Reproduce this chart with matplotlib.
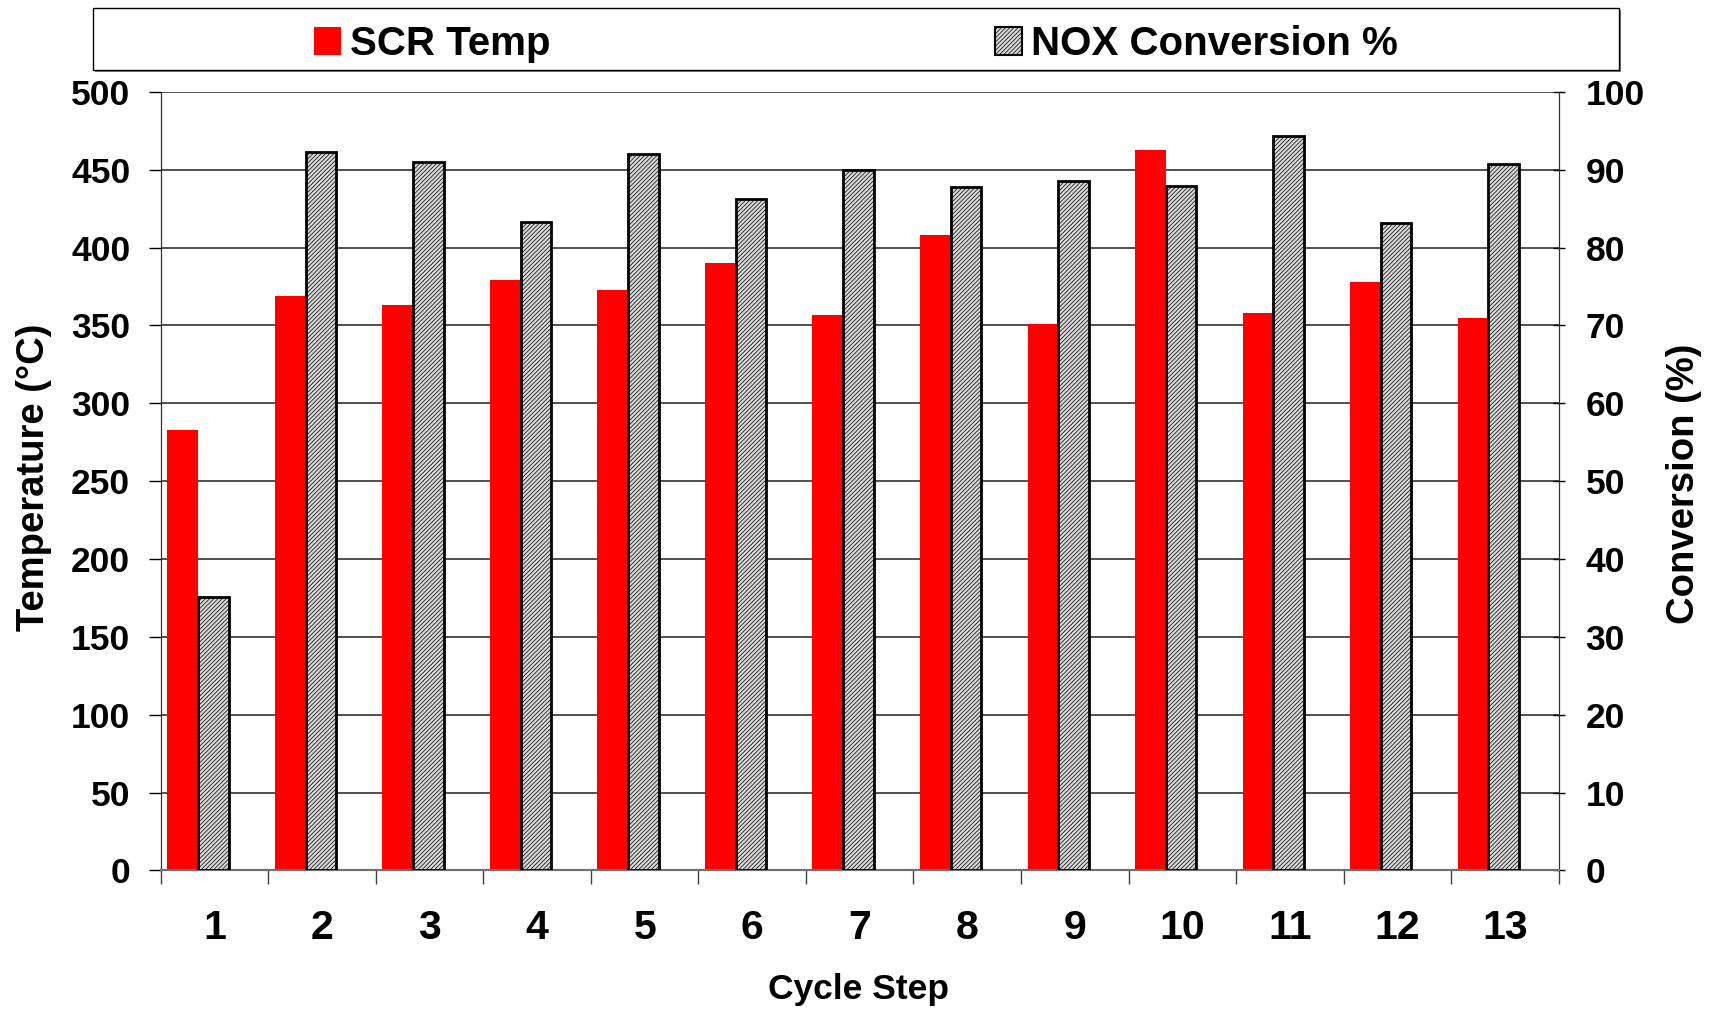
import numpy as np
import matplotlib
matplotlib.use("Agg")
import matplotlib.pyplot as plt
from matplotlib.patches import Rectangle, Patch

plt.rcParams['font.family'] = ['Liberation Sans', 'DejaVu Sans']
plt.rcParams['font.weight'] = 'bold'
plt.rcParams['hatch.linewidth'] = 0.5
plt.rcParams['hatch.color'] = '#404040'

steps = ['1', '2', '3', '4', '5', '6', '7', '8', '9', '10', '11', '12', '13']
scr_temp = [283, 369, 363, 379, 373, 390, 357, 408, 351, 463, 358, 378, 355]
nox_conv = [35.1, 92.3, 91.0, 83.3, 92.0, 86.2, 90.0, 87.8, 88.6, 87.9, 94.3, 83.1, 90.7]

temp_ticks = np.arange(0, 501, 50)
conv_ticks = np.arange(0, 101, 10)

fig = plt.figure(figsize=(17.15, 10.09), dpi=100)
ax = fig.add_axes([0.0938, 0.1373, 0.8150, 0.7716])
ax2 = ax.twinx()

x = np.arange(len(steps))
w = 0.285
red_bars = ax.bar(x - 0.297, scr_temp, w, color='#ff0000', edgecolor='none', zorder=3)
nox_bars = ax2.bar(x - 0.012, nox_conv, w, facecolor='#d8d8d8', edgecolor='black',
                   linewidth=2, hatch='////////', zorder=3)

ax.set_xlim(-0.5, len(steps) - 0.5)
ax.set_ylim(0, 500)
ax2.set_ylim(0, 100)
ax.set_yticks(temp_ticks)
ax2.set_yticks(conv_ticks)
ax.grid(axis='y', color='#202020', linewidth=1.1, zorder=0)
ax.set_axisbelow(True)

# category labels in the middle, tick marks on the boundaries
ax.set_xticks(x)
ax.set_xticklabels(steps, fontsize=29.5, fontweight='bold')
ax.set_xticks(np.arange(-0.5, len(steps)), minor=True)
ax.tick_params(axis='x', which='major', length=0, pad=28)
ax.tick_params(axis='x', which='minor', length=10, width=1, color='#404040', direction='out')
ax.tick_params(axis='y', labelsize=25.5, length=9, width=1, pad=13, direction='out')
ax2.tick_params(axis='y', labelsize=25.5, length=9, width=1, pad=15, direction='inout')

for a in (ax, ax2):
    a.spines['top'].set_visible(False)
    a.spines['left'].set_color('#303030')
    a.spines['right'].set_color('#303030')
    a.spines['bottom'].set_color('#707070')
    a.spines['bottom'].set_linewidth(1.5)
for lab in ax.get_yticklabels() + ax2.get_yticklabels():
    lab.set_fontweight('bold')

ax.set_ylabel('Temperature (°C)', fontsize=27.5, fontweight='bold', va='center')
ax.yaxis.set_label_coords(-0.091, 0.505)
ax2.set_ylabel('Conversion (%)', fontsize=27.5, fontweight='bold', rotation=90, va='center')
ax2.yaxis.set_label_coords(1.090, 0.496)
ax.set_xlabel('Cycle Step', fontsize=25.5, fontweight='bold', va='center')
ax.xaxis.set_label_coords(0.499, -0.153)

# legend box across the top
fig.patches.append(Rectangle((95 / 1715, 1 - 72 / 1009), 1526 / 1715, 62 / 1009,
                             transform=fig.transFigure, facecolor='#808080',
                             edgecolor='none', zorder=0))
fig.patches.append(Rectangle((93 / 1715, 1 - 70 / 1009), 1526 / 1715, 62 / 1009,
                             transform=fig.transFigure, facecolor='white',
                             edgecolor='black', linewidth=1, zorder=1))

leg_kw = dict(frameon=False, handlelength=0.68, handleheight=0.68,
              handletextpad=0.22, borderpad=0, borderaxespad=0,
              prop={'weight': 'bold', 'size': 29})
leg1 = fig.legend([Patch(facecolor='#ff0000', edgecolor='none')], ['SCR Temp'],
                  loc='center left', bbox_to_anchor=(314 / 1715, 1 - 44 / 1009), **leg_kw)
leg2 = fig.legend([Patch(facecolor='#d8d8d8', edgecolor='black', linewidth=1.5, hatch='////////')],
                  ['NOX Conversion %'],
                  loc='center left', bbox_to_anchor=(995 / 1715, 1 - 44 / 1009), **leg_kw)

fig.savefig('out.png', dpi=100, facecolor='white')
